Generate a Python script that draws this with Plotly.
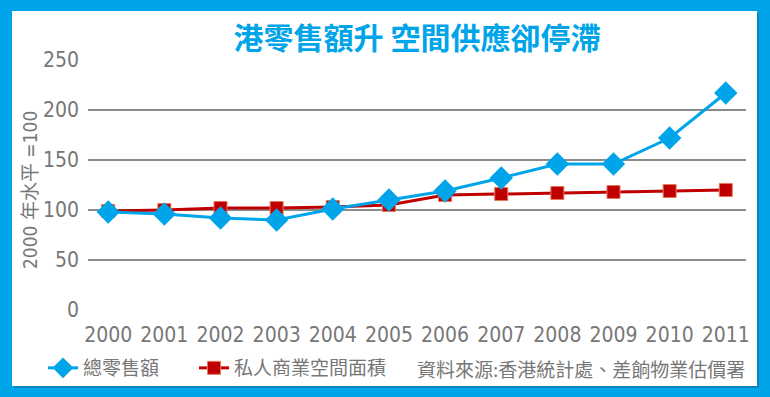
import plotly.graph_objects as go

years = ["2000", "2001", "2002", "2003", "2004", "2005", "2006", "2007", "2008", "2009", "2010", "2011"]
retail_sales = [98, 96, 92, 90, 101, 110, 119, 132, 146, 146, 172, 217]
commercial_space = [99, 100, 102, 102, 103, 105, 115, 116, 117, 118, 119, 120]
y_ticks = [0, 50, 100, 150, 200, 250]

name_retail = "總零售額"
name_space = "私人商業空間面積"
title_text = "港零售額升 空間供應卻停滯"
y_title = "2000 年水平 =100"
source_text = "資料來源:香港統計處、差餉物業估價署"

BLUE = "#00A5E9"
RED = "#C00000"
GREY = "#777777"
FONT = "DejaVu Sans Condensed, Liberation Sans Narrow, Noto Sans CJK TC, sans-serif"
CJK = "Noto Sans CJK TC, sans-serif"

W, H = 770, 397
L, R, T, B = 88, 24, 60, 87
pw, ph = W - L - R, H - T - B

def px(x):
    return (x - L) / pw

def py(y):
    return (H - B - y) / ph

fig = go.Figure()
fig.add_trace(go.Scatter(
    x=years, y=commercial_space, name=name_space, mode="lines+markers",
    line=dict(color=RED, width=3),
    marker=dict(symbol="square", size=13, color=RED, line=dict(color="#E8775A", width=1)),
    legend="legend2",
))
fig.add_trace(go.Scatter(
    x=years, y=retail_sales, name=name_retail, mode="lines+markers",
    line=dict(color=BLUE, width=3),
    marker=dict(symbol="diamond", size=18, color=BLUE),
    legend="legend",
))

# panel shadow and white panel
fig.add_shape(type="rect", xref="paper", yref="paper",
              x0=px(14), x1=px(759), y0=py(388), y1=py(13),
              fillcolor="#0B86BD", line=dict(width=0), layer="below")
fig.add_shape(type="rect", xref="paper", yref="paper",
              x0=px(12), x1=px(757), y0=py(386), y1=py(11),
              fillcolor="white", line=dict(width=0), layer="below")

fig.add_annotation(x=px(30), y=py(190), xref="paper", yref="paper",
                   xanchor="center", yanchor="middle",
                   text=y_title, textangle=-90, showarrow=False,
                   font=dict(family=FONT, size=19, color=GREY))
fig.add_annotation(x=px(747), y=py(368), xref="paper", yref="paper",
                   xanchor="right", yanchor="middle",
                   text=source_text, showarrow=False,
                   font=dict(family=CJK, size=19, color=GREY))

legend_style = dict(orientation="h", xref="container", yref="container",
                    xanchor="left", yanchor="middle", y=1 - 368 / H,
                    bgcolor="rgba(0,0,0,0)", font=dict(family=CJK, size=19, color=GREY),
                    itemwidth=30)

fig.update_layout(
    width=W, height=H,
    margin=dict(l=L, r=R, t=T, b=B, pad=0, autoexpand=False),
    paper_bgcolor=BLUE, plot_bgcolor="white",
    title=dict(text="<b>" + title_text + "</b>", x=0.5, xref="paper", xanchor="center",
               y=1 - 38 / H, yanchor="middle", yref="container",
               font=dict(family=CJK, size=30, color=BLUE)),
    showlegend=True,
    legend=dict(x=43 / W, **legend_style),
    legend2=dict(x=194 / W, **legend_style),
    xaxis=dict(type="category", range=[-0.36, 11.36], showgrid=False, zeroline=False,
               showline=False, ticks="", ticklabelstandoff=10, automargin=False,
               tickfont=dict(family=FONT, size=21, color=GREY), fixedrange=True),
    yaxis=dict(range=[0, 250], tickvals=y_ticks, showgrid=True, gridcolor="#8C8C8C",
               gridwidth=2, zeroline=False, showline=False, ticks="", ticklabelstandoff=8,
               automargin=False,
               tickfont=dict(family=FONT, size=21, color=GREY), fixedrange=True),
)

fig.write_html("out.html", config={"displayModeBar": False, "staticPlot": True},
               post_script="document.body.style.margin='0';document.body.style.overflow='hidden';")
